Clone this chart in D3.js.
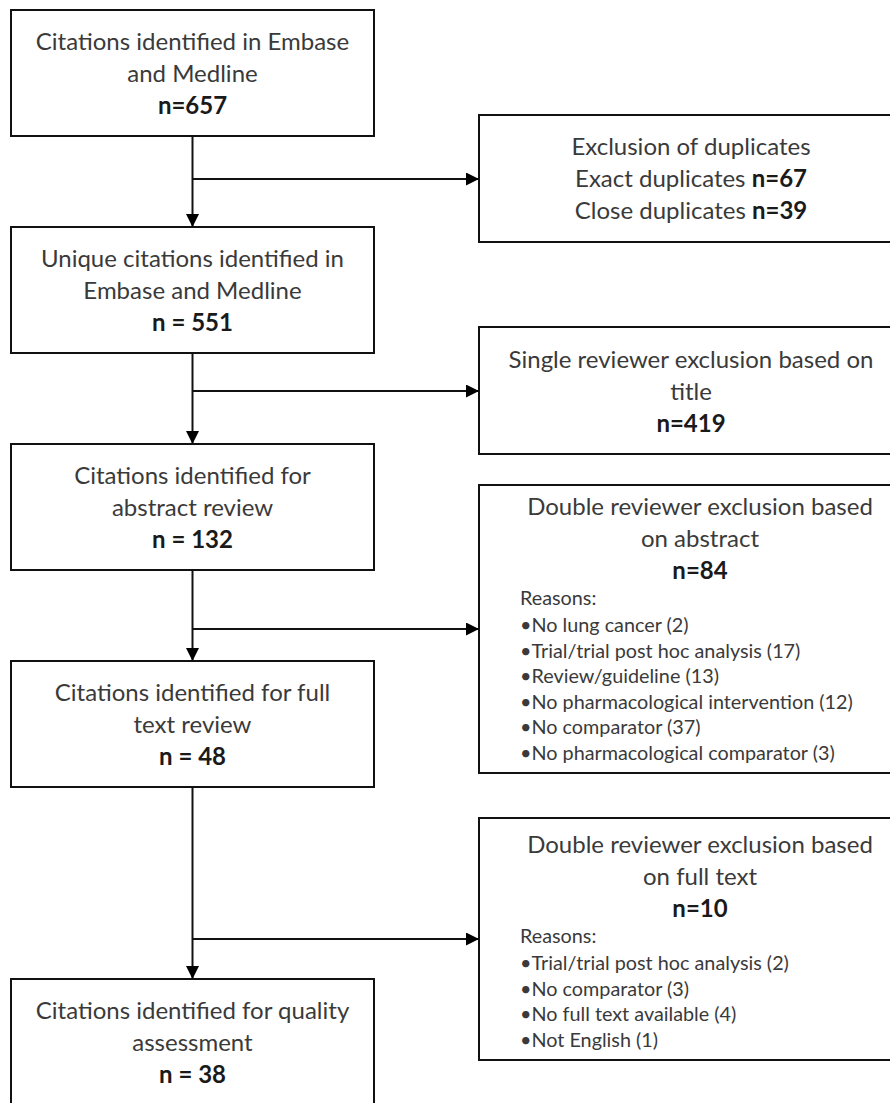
<!DOCTYPE html>
<html>
<head>
<meta charset="utf-8">
<script src="https://cdn.jsdelivr.net/npm/d3@7"></script>
<style>
  body { margin: 0; background: #fff; }
  text { font-family: Lato, "Open Sans", sans-serif; fill: #3a3a3a; }
  .count { font-weight: bold; fill: #1a1a1a; }
</style>
</head>
<body>
<div id="chart"></div>
<script>
// Flow chart content
var stageLabels = [
  ["Citations identified in Embase", "and Medline"],
  ["Unique citations identified in", "Embase and Medline"],
  ["Citations identified for", "abstract review"],
  ["Citations identified for full", "text review"],
  ["Citations identified for quality", "assessment"]
];
var stageCounts = ["n=657", "n = 551", "n = 132", "n = 48", "n = 38"];

var exclusionTitles = [
  ["Exclusion of duplicates"],
  ["Single reviewer exclusion based on", "title"],
  ["Double reviewer exclusion based", "on abstract"],
  ["Double reviewer exclusion based", "on full text"]
];
var exclusionCounts = [null, "n=419", "n=84", "n=10"];

var duplicateKinds = ["Exact duplicates", "Close duplicates"];
var duplicateCounts = [67, 39];

var abstractReasons = ["No lung cancer", "Trial/trial post hoc analysis", "Review/guideline",
  "No pharmacological intervention", "No comparator", "No pharmacological comparator"];
var abstractReasonCounts = [2, 17, 13, 12, 37, 3];

var fulltextReasons = ["Trial/trial post hoc analysis", "No comparator", "No full text available", "Not English"];
var fulltextReasonCounts = [2, 3, 4, 1];

// Layout
var width = 890, height = 1103;
var leftX = 11, leftW = 363;
var stageTop = [10, 227, 444, 661, 979];
var stageBottom = [136, 353, 570, 787, 1125];
var rightX = 479;
var exclTop = [115, 327, 485, 818];
var exclBottom = [242, 454, 773, 1060];
var exclW = [424, 424, 442, 442];
var exclTitleOffset = [40, 41, 30, 35];
var branchY = [179, 391, 629, 939];
var lineH = 32, reasonH = 25.5;
var titleSize = "24px", reasonSize = "19.8px";
var spineX = leftX + leftW / 2;

var svg = d3.select("#chart").append("svg")
    .attr("width", width)
    .attr("height", height);

svg.append("defs").append("marker")
    .attr("id", "arrow")
    .attr("viewBox", "0 0 10 10")
    .attr("refX", 10).attr("refY", 5)
    .attr("markerWidth", 7).attr("markerHeight", 6.5)
    .attr("markerUnits", "strokeWidth")
    .attr("orient", "auto")
  .append("path")
    .attr("d", "M0,0 L10,5 L0,10 z")
    .attr("fill", "#000");

// connectors
var links = svg.append("g").attr("stroke", "#111").attr("stroke-width", 2).attr("fill", "none");

links.selectAll(".down")
    .data(d3.range(stageLabels.length - 1))
  .enter().append("line")
    .attr("class", "down")
    .attr("x1", spineX).attr("x2", spineX)
    .attr("y1", function(i) { return stageBottom[i]; })
    .attr("y2", function(i) { return stageTop[i + 1]; })
    .attr("marker-end", "url(#arrow)");

links.selectAll(".side")
    .data(branchY)
  .enter().append("line")
    .attr("class", "side")
    .attr("x1", spineX).attr("x2", rightX)
    .attr("y1", function(d) { return d; })
    .attr("y2", function(d) { return d; })
    .attr("marker-end", "url(#arrow)");

// left boxes
var stage = svg.selectAll(".stage")
    .data(stageLabels)
  .enter().append("g")
    .attr("class", "stage")
    .attr("transform", function(d, i) { return "translate(" + leftX + "," + stageTop[i] + ")"; });

stage.append("rect")
    .attr("width", leftW)
    .attr("height", function(d, i) { return stageBottom[i] - stageTop[i]; })
    .attr("fill", "#fff").attr("stroke", "#111").attr("stroke-width", 2);

stage.each(function(lines, i) {
  var g = d3.select(this);
  lines.forEach(function(t, j) {
    g.append("text")
        .attr("x", leftW / 2).attr("y", 40 + j * lineH)
        .attr("text-anchor", "middle")
        .style("font-size", titleSize)
        .text(t);
  });
  g.append("text")
      .attr("class", "count")
      .attr("x", leftW / 2).attr("y", 40 + lines.length * lineH)
      .attr("text-anchor", "middle")
      .style("font-size", titleSize)
      .text(stageCounts[i]);
});

// right boxes
var excl = svg.selectAll(".excl")
    .data(exclusionTitles)
  .enter().append("g")
    .attr("class", "excl")
    .attr("transform", function(d, i) { return "translate(" + rightX + "," + exclTop[i] + ")"; });

excl.append("rect")
    .attr("width", function(d, i) { return exclW[i]; })
    .attr("height", function(d, i) { return exclBottom[i] - exclTop[i]; })
    .attr("fill", "#fff").attr("stroke", "#111").attr("stroke-width", 2);

excl.each(function(lines, i) {
  var g = d3.select(this), cx = exclW[i] / 2, y0 = exclTitleOffset[i];
  lines.forEach(function(t, j) {
    g.append("text")
        .attr("x", cx).attr("y", y0 + j * lineH)
        .attr("text-anchor", "middle")
        .style("font-size", titleSize)
        .text(t);
  });
  if (exclusionCounts[i]) {
    g.append("text")
        .attr("class", "count")
        .attr("x", cx).attr("y", y0 + lines.length * lineH)
        .attr("text-anchor", "middle")
        .style("font-size", titleSize)
        .text(exclusionCounts[i]);
  }
});

// duplicates detail
var dup = d3.select(excl.nodes()[0]).selectAll(".dup")
    .data(duplicateKinds)
  .enter().append("text")
    .attr("class", "dup")
    .attr("x", exclW[0] / 2)
    .attr("y", function(d, j) { return exclTitleOffset[0] + (j + 1) * lineH; })
    .attr("text-anchor", "middle")
    .style("font-size", titleSize);
dup.append("tspan").text(function(d) { return d + " "; });
dup.append("tspan").attr("class", "count").text(function(d, j) { return "n=" + duplicateCounts[j]; });

// reason lists
function reasonList(boxIndex, names, counts) {
  var g = d3.select(excl.nodes()[boxIndex]);
  var y0 = exclTitleOffset[boxIndex] + 2 * lineH + 26;
  g.append("text")
      .attr("x", 41).attr("y", y0)
      .style("font-size", reasonSize)
      .text("Reasons:");
  g.selectAll(".reason")
      .data(names)
    .enter().append("text")
      .attr("class", "reason")
      .attr("x", 41)
      .attr("y", function(d, j) { return y0 + 27 + j * reasonH; })
      .style("font-size", reasonSize)
      .text(function(d, j) { return "\u2022" + d + " (" + counts[j] + ")"; });
}
reasonList(2, abstractReasons, abstractReasonCounts);
reasonList(3, fulltextReasons, fulltextReasonCounts);
</script>
</body>
</html>
